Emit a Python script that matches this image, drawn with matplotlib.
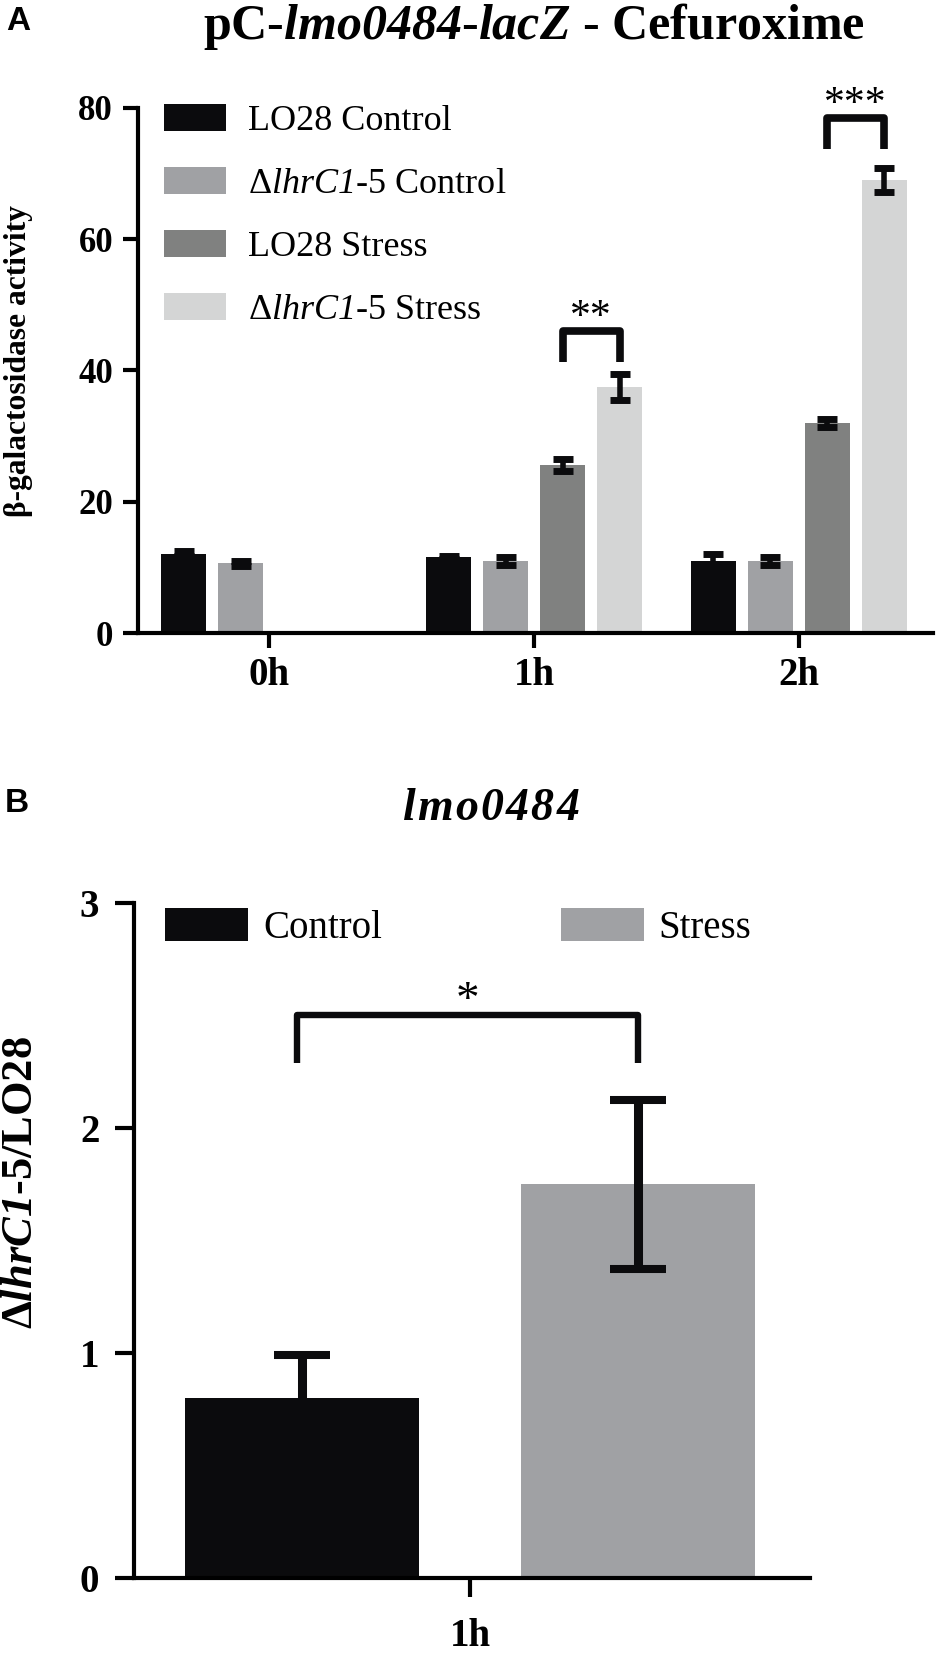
import numpy as np
import matplotlib
matplotlib.use('Agg')
import matplotlib.pyplot as plt

plt.rcParams['font.family'] = ['Liberation Serif', 'DejaVu Serif']
plt.rcParams['mathtext.fontset'] = 'custom'
plt.rcParams['mathtext.rm'] = 'Liberation Serif'
plt.rcParams['mathtext.it'] = 'Liberation Serif:italic'
plt.rcParams['mathtext.sf'] = 'Liberation Serif:italic'
plt.rcParams['mathtext.bf'] = 'Liberation Serif:italic:bold'

# panel A - beta-galactosidase activity
times = ['0h', '1h', '2h']
series_a = ['LO28 Control', r'Δ$\mathsf{lhrC1}$-5 Control',
            'LO28 Stress', r'Δ$\mathsf{lhrC1}$-5 Stress']
lo28_ctrl = [12.1, 11.5, 11.0]
lo28_ctrl_sd = [0.4, 0.2, 1.0]
dl_ctrl = [10.6, 11.0, 11.0]
dl_ctrl_sd = [0.4, 0.6, 0.6]
lo28_stress = [np.nan, 25.6, 32.0]
lo28_stress_sd = [np.nan, 0.9, 0.6]
dl_stress = [np.nan, 37.5, 69.0]
dl_stress_sd = [np.nan, 2.0, 1.8]
colors_a = ['#0b0b0d', '#a0a1a4', '#808180', '#d4d5d5']
# significance: (group, text, bracket top, leg bottom)
sig_a = [(1, '**', 46.0, 41.2), (2, '***', 78.5, 73.7)]

# panel B - ratio
series_b = ['Control', 'Stress']
ratio = [0.80, 1.75]
ratio_sd = [0.19, 0.375]
colors_b = ['#0b0b0d', '#a0a1a4']

W, H = 936, 1653
fig = plt.figure(figsize=(W / 100, H / 100), dpi=100)


def rect(l, r, t, b):
    return [l / W, 1 - b / H, (r - l) / W, (b - t) / H]


def style_axes(ax, ticklen, yfs, ypad, xfs, xpad):
    for s in ['top', 'right']:
        ax.spines[s].set_visible(False)
    for s in ['left', 'bottom']:
        ax.spines[s].set_linewidth(3)
    ax.tick_params(axis='both', length=ticklen, width=3)
    ax.tick_params(axis='y', pad=ypad, labelsize=yfs)
    ax.tick_params(axis='x', pad=xpad, labelsize=xfs)
    for lab in ax.get_xticklabels() + ax.get_yticklabels():
        lab.set_fontweight('bold')


def bracket(ax, x1, x2, y, y0, text, lw, fs):
    ax.plot([x1, x1, x2, x2], [y0, y, y, y0], color='#0b0b0d', lw=lw,
            solid_joinstyle='round', solid_capstyle='butt', clip_on=False, zorder=4)
    ax.annotate(text, ((x1 + x2) / 2, y), xytext=(0, 2), textcoords='offset points',
                ha='center', va='baseline', fontsize=fs, annotation_clip=False)


# ---- panel A ----
ax = fig.add_axes(rect(138, 933, 107.7, 633))
slot = 0.2155
width = 0.17
x = np.arange(len(times))
means = [lo28_ctrl, dl_ctrl, lo28_stress, dl_stress]
sds = [lo28_ctrl_sd, dl_ctrl_sd, lo28_stress_sd, dl_stress_sd]
for k in range(4):
    pos = x + (k - 1.5) * slot
    ax.bar(pos, means[k], width, color=colors_a[k], label=series_a[k], zorder=2)
    ax.errorbar(pos, means[k], yerr=sds[k], fmt='none', ecolor='#0b0b0d',
                elinewidth=4, capsize=7.2, capthick=5, zorder=3)

for g, txt, ytop, ybot in sig_a:
    bracket(ax, g + 0.5 * slot, g + 1.5 * slot, ytop, ybot, txt, 5.5, 30)

ax.set_xlim(-0.497, 2.508)
ax.set_ylim(0, 80)
ax.set_yticks([0, 20, 40, 60, 80])
ax.set_xticks(x)
ax.set_xticklabels(times)
style_axes(ax, 11, 25, 7, 28, 6)

ax.legend(loc='upper left', bbox_to_anchor=(164 / W, 1 - 103.5 / H),
          bbox_transform=fig.transFigure, frameon=False, fontsize=26,
          handlelength=1.72, handleheight=0.78, handletextpad=0.61,
          labelspacing=0.80, borderpad=0, borderaxespad=0)

fig.text(534 / W, 1 - 39 / H, r'pC-$\mathbf{lmo0484}$-$\mathbf{lacZ}$ - Cefuroxime',
         ha='center', va='baseline', fontsize=36, fontweight='bold')
fig.text(19 / W, 1 - 361 / H, 'β-galactosidase activity', rotation=90,
         ha='center', va='center', fontsize=22.7, fontweight='bold')
fig.text(6 / W, 1 - 30 / H, 'A', family='Liberation Sans', fontsize=24,
         fontweight='bold', ha='left', va='baseline')

# ---- panel B ----
bx = fig.add_axes(rect(134, 810, 903, 1578))
xb = np.array([-0.5, 0.5])
for k in range(2):
    bx.bar(xb[k], ratio[k], 0.695, color=colors_b[k], label=series_b[k], zorder=2)
    bx.errorbar(xb[k], ratio[k], yerr=ratio_sd[k], fmt='none', ecolor='#0b0b0d',
                elinewidth=6.5, capsize=20, capthick=5.8, zorder=3)

bracket(bx, xb[0] - 0.015, xb[1], 2.5, 2.29, '*', 4.6, 34)

bx.set_xlim(-0.998, 1.01)
bx.set_ylim(0, 3)
bx.set_yticks([0, 1, 2, 3])
bx.set_xticks([0])
bx.set_xticklabels(['1h'])
style_axes(bx, 14, 28, 11, 28, 15)

bx.legend(loc='upper left', bbox_to_anchor=(165 / W, 1 - 908.5 / H),
          bbox_transform=fig.transFigure, frameon=False, fontsize=28, ncol=2,
          handlelength=2.13, handleheight=0.9, handletextpad=0.39,
          columnspacing=4.6, borderpad=0, borderaxespad=0)

fig.text(491 / W, 1 - 820 / H,
         r'$\mathbf{l\hspace{0.07}m\hspace{0.07}o\hspace{0.07}0\hspace{0.07}4\hspace{0.07}8\hspace{0.07}4}$',
         ha='center', va='baseline', fontsize=33, fontweight='bold')
fig.text(21 / W, 1 - 1183 / H, r'Δ$\mathbf{lhrC1}$-5/LO28', rotation=90,
         ha='center', va='center', fontsize=32, fontweight='bold')
fig.text(5 / W, 1 - 812 / H, 'B', family='Liberation Sans', fontsize=24,
         fontweight='bold', ha='left', va='baseline')

fig.savefig('out.png', dpi=100)
